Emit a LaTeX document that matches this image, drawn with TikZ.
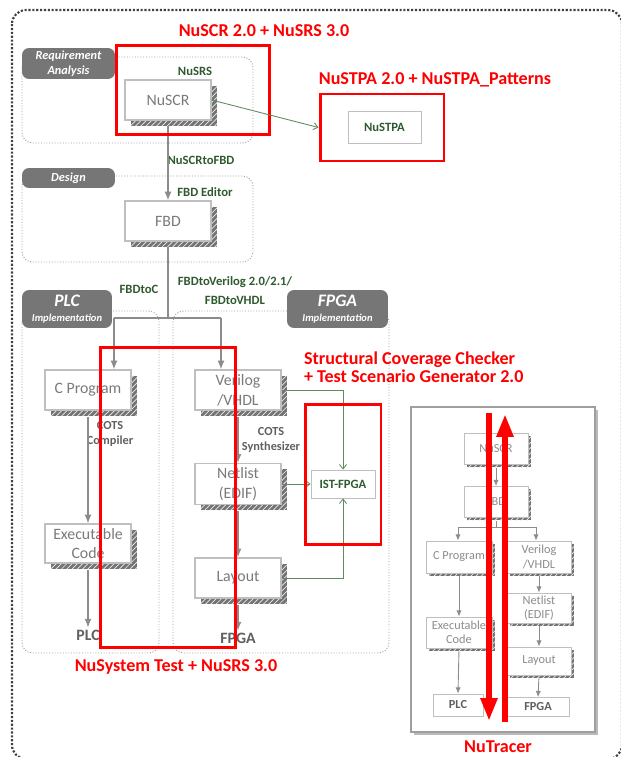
\documentclass[tikz,border=0pt]{standalone}
\usepackage{fontspec}
\setmainfont{Carlito}
\usetikzlibrary{arrows.meta, patterns, shadows}
\definecolor{mark-red}{HTML}{FF0000}
\definecolor{tool-green}{HTML}{2F5A2F}
\definecolor{link-green}{HTML}{5E8C5E}
\definecolor{box-line}{HTML}{BFBFBF}
\definecolor{box-text}{HTML}{7A7A7A}
\definecolor{mini-text}{HTML}{8C8C8C}
\definecolor{tab-gray}{HTML}{767676}
\definecolor{group-line}{HTML}{A0A0A0}
\definecolor{flow-gray}{HTML}{8C8C8C}
\definecolor{label-gray}{HTML}{5F5F5F}

\begin{document}
\begin{tikzpicture}[x=0.02cm, y=-0.02cm,
      every node/.style={inner sep=1pt},
      hatch/.style={general shadow={fill=gray!90!black, shadow xshift=#1, shadow yshift=-#1},
        general shadow={pattern=north east lines, pattern color=white!85!gray,
          shadow xshift=#1, shadow yshift=-#1}},
      box/.style={draw=box-line, line width=0.6pt, fill=white, text=box-text,
        font=\fontsize{9}{11.3}\selectfont, minimum width=1.72cm,
        minimum height=0.8cm, align=center, hatch=3.4pt},
      mbox/.style={draw=box-line, line width=0.5pt, fill=white, text=mini-text,
        font=\fontsize{7}{8}\selectfont, minimum width=1.28cm,
        minimum height=0.62cm, align=center, hatch=1.7pt},
      endbox/.style={draw=box-line, line width=0.5pt, fill=white, text=label-gray,
        font=\bfseries\fontsize{7}{8}\selectfont},
      toolbox/.style={draw=box-line, line width=0.5pt, fill=white, text=tool-green,
        font=\bfseries\fontsize{7.2}{8}\selectfont},
      group/.style={draw=group-line, densely dotted, line width=0.55pt, rounded corners=6pt},
      tab/.style={fill=tab-gray, rounded corners=4pt, text=white, align=center,
        font=\bfseries\itshape\fontsize{7}{8.5}\selectfont},
      tool/.style={text=tool-green, font=\bfseries\fontsize{7.2}{10.8}\selectfont, align=center},
      cots/.style={text=label-gray, font=\bfseries\fontsize{7}{8.5}\selectfont, align=center},
      target/.style={text=label-gray, font=\bfseries\fontsize{9}{10}\selectfont},
      frame/.style={draw=mark-red, line width=1.7pt, inner sep=0pt},
      marktext/.style={text=mark-red, font=\bfseries\fontsize{10.3}{10.2}\selectfont},
      flow/.style={draw=flow-gray, line width=0.85pt, -{Latex[length=5pt, width=4pt]}},
      trunk/.style={draw=flow-gray, line width=0.85pt},
      mflow/.style={draw=flow-gray, line width=0.5pt, -{Latex[length=3.5pt, width=3pt]}},
      mtrunk/.style={draw=flow-gray, line width=0.5pt},
      link/.style={draw=link-green, line width=0.5pt, -{Straight Barb[length=2.5pt, width=4pt]}},
      bigred/.style={draw=mark-red, line width=3.4pt, -{Triangle[length=13pt, width=9pt]}}]
    \useasboundingbox (0,0) rectangle (620,757);
    \draw[draw=black!75, densely dotted, line width=1.2pt, rounded corners=8pt]
      (12,10) rectangle (622,759);

    \draw[group] (22,57) rectangle (253,143);
    \draw[group] (22,176) rectangle (253,262);
    \draw[group] (22,311) rectangle (159,653);
    \draw[group] (173,311) rectangle (389,653);
    \node[tab, minimum width=1.86cm, minimum height=0.62cm] (REQT) at (68.5,63.5)
      {Requirement\\Analysis};
    \node[tab, minimum width=1.86cm, minimum height=0.4cm] (DEST) at (68.5,178) {Design};
    \node[tab, minimum width=1.8cm, minimum height=0.76cm, font=\bfseries\itshape\fontsize{6}{9}\selectfont]
      (PLCTAB) at (67,309) {{\fontsize{10}{9}\selectfont PLC}\\Implementation};
    \node[tab, minimum width=2.02cm, minimum height=0.76cm, font=\bfseries\itshape\fontsize{6}{9}\selectfont]
      (FPGATAB) at (337.5,309) {{\fontsize{10}{9}\selectfont FPGA}\\Implementation};

    \node[box] (SCR) at (168,100) {NuSCR};
    \node[box] (FBD) at (168,221) {FBD};
    \node[box] (CPRG) at (88,390) {C Program};
    \node[box] (VLOG) at (238,390) {Verilog\\/VHDL};
    \node[box, minimum height=0.82cm] (NETL) at (238,484) {Netlist\\(EDIF)};
    \node[box] (LAYT) at (238,578) {Layout};
    \node[box, minimum height=0.78cm] (EXEC) at (88,543.5) {Executable\\Code};
    \node[toolbox, minimum width=1.46cm, minimum height=0.64cm] (STPA) at (384.5,127) {NuSTPA};
    \node[toolbox, minimum width=1.28cm, minimum height=0.56cm] (IST) at (343,484) {IST-FPGA};
    \node[target] (PLCT) at (88,635) {PLC};
    \node[target] (FPGT) at (238,638) {FPGA};

    \node[tool] (LSRS) at (195,71) {NuSRS};
    \node[tool] (LSCRFBD) at (201,160) {NuSCRtoFBD};
    \node[tool] (LFBDED) at (205,192) {FBD Editor};
    \node[tool] (LFBDC) at (139,289) {FBDtoC};
    \node[tool] (LFBDV) at (235,290.5) {FBDtoVerilog 2.0/2.1/\\FBDtoVHDL};
    \node[cots] (LCOMP) at (110,433.5) {COTS\\Compiler};
    \node[cots] (LSYN) at (271,439.5) {COTS\\Synthesizer};

    \coordinate (SPLL) at (114,318);
    \coordinate (SPLR) at (221,318);
    \draw[flow, shorten <=3.4pt] (SCR.south) -- (FBD.north);
    \draw[trunk, shorten <=3.4pt] (FBD.south) -- (FBD.south |- SPLL);
    \draw[trunk] (SPLL) -- (SPLR);
    \draw[flow] (SPLL) -- (SPLL |- CPRG.north);
    \draw[flow] (SPLR) -- (SPLR |- VLOG.north);
    \draw[flow, shorten <=3.4pt] (CPRG.south) -- (EXEC.north);
    \draw[flow, shorten <=3.4pt] (EXEC.south) -- (PLCT.north);
    \draw[flow, shorten <=3.4pt] (VLOG.south) -- (NETL.north);
    \draw[flow, shorten <=3.4pt] (NETL.south) -- (LAYT.north);
    \draw[flow, shorten <=3.4pt] (LAYT.south) -- (FPGT.north);
    \draw[link] (VLOG.east) -| (IST.north);
    \draw[link] (NETL.east) -- (IST.west);
    \draw[link] (LAYT.east) -| (IST.south);

    \node[frame, minimum width=3.08cm, minimum height=1.8cm] (SCRF) at (193,90) {};
    \node[frame, minimum width=2.48cm, minimum height=1.34cm] (STPAF) at (382,127.5) {};
    \node[frame, minimum width=1.52cm, minimum height=2.82cm] (ISTF) at (343,474.5) {};
    \node[frame, minimum width=2.72cm, minimum height=6.02cm] (SYSF) at (168,497.5) {};
    \draw[link] (SCR.east) -- (STPAF.west);

    \node[marktext] (TSCR) at (264,31) {NuSCR 2.0 + NuSRS 3.0};
    \node[marktext] (TSTPA) at (435,80) {NuSTPA 2.0 + NuSTPA\_Patterns};
    \node[marktext, anchor=west, align=left] (TIST) at (302,367)
      {Structural Coverage Checker\\+ Test Scenario Generator 2.0};
    \node[marktext] (TSYS) at (176,667) {NuSystem Test + NuSRS 3.0};

    \node[draw=gray!75, line width=0.8pt, fill=white, minimum width=3.68cm, minimum height=6.5cm,
      general shadow={fill=gray!55, shadow xshift=1.7pt, shadow yshift=-1.7pt}] (TRC) at (503,569.5) {};
    \node[mbox] (MSCR) at (496,449) {NuSCR};
    \node[mbox] (MFBD) at (496,502) {FBD};
    \node[mbox, minimum width=1.32cm, minimum height=0.64cm] (MCPRG) at (459,557) {C Program};
    \node[mbox, minimum height=0.64cm] (MVLOG) at (539,557) {Verilog\\/VHDL};
    \node[mbox, minimum height=0.6cm] (MNETL) at (539,608) {Netlist\\(EDIF)};
    \node[mbox, minimum height=0.56cm] (MLAYT) at (539,661) {Layout};
    \node[mbox, minimum width=1.32cm] (MEXEC) at (459,632.5) {Executable\\Code};
    \node[endbox, minimum width=1cm, minimum height=0.44cm] (MPLC) at (458,705) {PLC};
    \node[endbox, minimum width=1.24cm, minimum height=0.38cm] (MFPGA) at (538,707) {FPGA};
    \coordinate (MSPL) at (458,527);
    \coordinate (MSPR) at (536,527);
    \draw[mflow, shorten <=1.7pt] (MSCR.south) -- (MFBD.north);
    \draw[mtrunk, shorten <=1.7pt] (MFBD.south) -- (MFBD.south |- MSPL);
    \draw[mtrunk] (MSPL) -- (MSPR);
    \draw[mflow] (MSPL) -- (MSPL |- MCPRG.north);
    \draw[mflow] (MSPR) -- (MSPR |- MVLOG.north);
    \draw[mflow, shorten <=1.7pt] (MCPRG.south) -- (MEXEC.north);
    \draw[mflow, shorten <=1.7pt] (MEXEC.south) -- (MPLC.north);
    \draw[mflow, shorten <=1.7pt] (MVLOG.south) -- (MNETL.north);
    \draw[mflow, shorten <=1.7pt] (MNETL.south) -- (MLAYT.north);
    \draw[mflow, shorten <=1.7pt] (MLAYT.south) -- (MFPGA.north);
    \coordinate (TDA) at (489,413);
    \coordinate (TDB) at (489,721);
    \coordinate (TUA) at (505,722);
    \coordinate (TUB) at (505,414);
    \draw[bigred] (TDA) -- (TDB);
    \draw[bigred] (TUA) -- (TUB);
    \node[marktext] (TTRC) at (498,747) {NuTracer};
  \end{tikzpicture}
\end{document}
